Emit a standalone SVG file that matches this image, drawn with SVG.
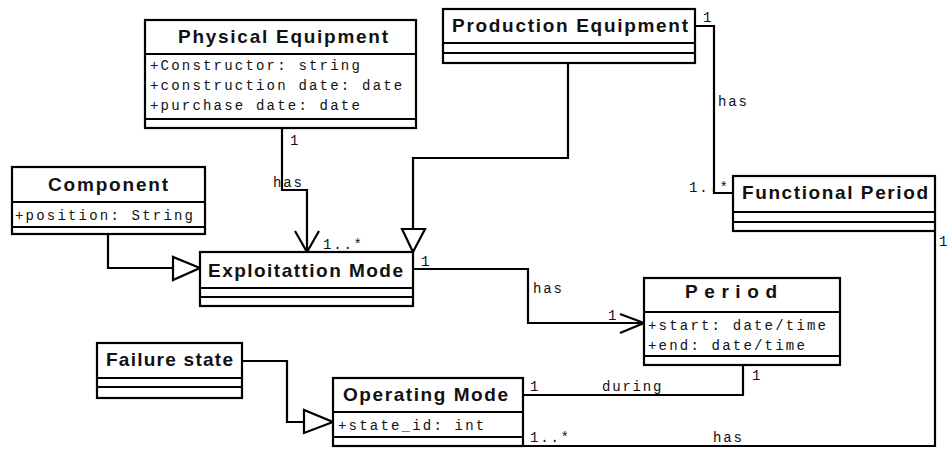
<svg xmlns="http://www.w3.org/2000/svg" width="950" height="450" viewBox="0 0 950 450">
<style>
.box{fill:#fff;stroke:#000;stroke-width:2.2}
.sep{stroke:#000;stroke-width:2.2}
.title{font-family:"Liberation Sans",Arial,sans-serif;font-weight:bold;font-size:19px;fill:#111}
.attr{font-family:"Liberation Mono","Courier New",monospace;font-size:14px;letter-spacing:2.2px;fill:#111}
.lbl{font-family:"Liberation Mono","Courier New",monospace;font-size:14px;letter-spacing:1.8px;fill:#111}
.edge{fill:none;stroke:#000;stroke-width:2.2}
.tri{fill:#fff;stroke:#000;stroke-width:2.2;stroke-linejoin:miter}
</style>
<rect width="950" height="450" fill="#fff"/>
<g id="connectors">
  <path class="edge" d="M282 128 V190 H307 V252"/>
  <path class="edge" d="M295 231 L307 252 L319 231"/>
  <path class="edge" d="M568 63 V158 H413 V229"/>
  <polygon class="tri" points="402,229 425,229 413,252"/>
  <path class="edge" d="M108 234 V268 H173"/>
  <polygon class="tri" points="173,257 173,280 200,268"/>
  <path class="edge" d="M695 26 H714 V193 H733"/>
  <path class="edge" d="M413 269 H528 V323 H644"/>
  <path class="edge" d="M620 314 L644 323 L620 333"/>
  <path class="edge" d="M242 361 H287 V422 H304"/>
  <polygon class="tri" points="304,410 304,433 333,422"/>
  <path class="edge" d="M523 395 H743 V365"/>
  <path class="edge" d="M523 446 H935 V231"/>
  <text class="lbl" x="290" y="145">1</text>
  <text class="lbl" x="273" y="187">has</text>
  <text class="lbl" x="323" y="249">1..*</text>
  <text class="lbl" x="421" y="266">1</text>
  <text class="lbl" x="533" y="293">has</text>
  <text class="lbl" x="608" y="320">1</text>
  <text class="lbl" x="703" y="22">1</text>
  <text class="lbl" x="718" y="106">has</text>
  <text class="lbl" x="689" y="192">1..*</text>
  <text class="lbl" x="939" y="246">1</text>
  <text class="lbl" x="530" y="391">1</text>
  <text class="lbl" x="602" y="391">during</text>
  <text class="lbl" x="752" y="380">1</text>
  <text class="lbl" x="530" y="442">1..*</text>
  <text class="lbl" x="713" y="442">has</text>
</g>
<g id="physical-equipment">
  <rect class="box" x="145" y="20" width="271" height="108"/>
  <line class="sep" x1="145" y1="54" x2="416" y2="54"/>
  <line class="sep" x1="145" y1="119" x2="416" y2="119"/>
  <text class="title" x="178" y="43" textLength="210" lengthAdjust="spacing">Physical Equipment</text>
  <text class="attr" x="150" y="70">+Constructor: string</text>
  <text class="attr" x="150" y="90">+construction date: date</text>
  <text class="attr" x="150" y="110">+purchase date: date</text>
</g>
<g id="production-equipment">
  <rect class="box" x="443" y="9" width="252" height="54"/>
  <line class="sep" x1="443" y1="43" x2="695" y2="43"/>
  <line class="sep" x1="443" y1="53" x2="695" y2="53"/>
  <text class="title" x="452" y="32" textLength="236" lengthAdjust="spacing">Production Equipment</text>
</g>
<g id="component">
  <rect class="box" x="12" y="167" width="193" height="67"/>
  <line class="sep" x1="12" y1="202" x2="205" y2="202"/>
  <line class="sep" x1="12" y1="227" x2="205" y2="227"/>
  <text class="title" x="48" y="191" textLength="120" lengthAdjust="spacing">Component</text>
  <text class="attr" x="15" y="220">+position: String</text>
</g>
<g id="exploitation-mode">
  <rect class="box" x="200" y="252" width="213" height="54"/>
  <line class="sep" x1="200" y1="288" x2="413" y2="288"/>
  <line class="sep" x1="200" y1="297" x2="413" y2="297"/>
  <text class="title" x="208" y="277" textLength="195" lengthAdjust="spacing">Exploitattion Mode</text>
</g>
<g id="functional-period">
  <rect class="box" x="733" y="176" width="202" height="55"/>
  <line class="sep" x1="733" y1="212" x2="935" y2="212"/>
  <line class="sep" x1="733" y1="222" x2="935" y2="222"/>
  <text class="title" x="742" y="199" textLength="186" lengthAdjust="spacing">Functional Period</text>
</g>
<g id="period">
  <rect class="box" x="644" y="278" width="196" height="87"/>
  <line class="sep" x1="644" y1="312" x2="840" y2="312"/>
  <line class="sep" x1="644" y1="356" x2="840" y2="356"/>
  <text class="title" x="685" y="298" textLength="92" lengthAdjust="spacing">Period</text>
  <text class="attr" x="648" y="330">+start: date/time</text>
  <text class="attr" x="648" y="350">+end: date/time</text>
</g>
<g id="failure-state">
  <rect class="box" x="97" y="343" width="145" height="55"/>
  <line class="sep" x1="97" y1="378" x2="242" y2="378"/>
  <line class="sep" x1="97" y1="387" x2="242" y2="387"/>
  <text class="title" x="106" y="366" textLength="127" lengthAdjust="spacing">Failure state</text>
</g>
<g id="operating-mode">
  <rect class="box" x="333" y="378" width="190" height="68"/>
  <line class="sep" x1="333" y1="412" x2="523" y2="412"/>
  <line class="sep" x1="333" y1="437" x2="523" y2="437"/>
  <text class="title" x="343" y="401" textLength="165" lengthAdjust="spacing">Operating Mode</text>
  <text class="attr" x="338" y="430">+state_id: int</text>
</g>
</svg>
